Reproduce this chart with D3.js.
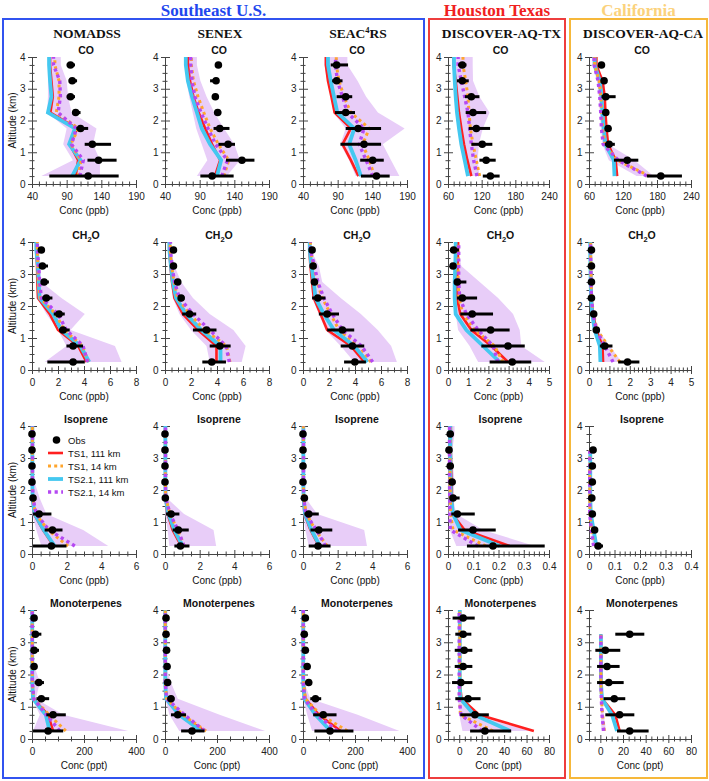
<!DOCTYPE html>
<html>
<head>
<meta charset="utf-8">
<script src="https://cdn.jsdelivr.net/npm/d3@7"></script>
<style>
  body { margin: 0; background: #fff; }
  svg text { font-family: "Liberation Sans", Arial, sans-serif; fill: #111; }
  .serif { font-family: "Liberation Serif", "Times New Roman", serif !important; font-weight: bold; }
  .axis path, .axis line { stroke: #444; stroke-width: 1; }
  .axis text { font-size: 10px; fill: #222; }
</style>
</head>
<body>
<svg id="chart" width="709" height="781"></svg>
<script>
"use strict";

// ── Data ──────────────────────────────────────────────────────────────────────
// altitude bins (km), bottom to top
const ALT = [0.25, 0.75, 1.25, 1.75, 2.25, 2.75, 3.25, 3.75];

const CAMPAIGNS = ["NOMADSS", "SENEX", "SEAC4RS", "DISCOVER-AQ-TX", "DISCOVER-AQ-CA"];
const SPECIES = ["CO", "CH2O", "Isoprene", "Monoterpenes"];
const UNITS = ["Conc (ppb)", "Conc (ppb)", "Conc (ppb)", "Conc (ppt)"];
const LEGEND = ["Obs", "TS1, 111 km", "TS1, 14 km", "TS2.1, 111 km", "TS2.1, 14 km"];
const Y_TICKS = [0, 1, 2, 3, 4];

// x domains / ticks: [Southeast columns, Texas+California columns]
const X_DOMAIN = [[[40, 190], [60, 240]], [[0, 8], [0, 5]], [[0, 6], [0, 0.4]], [[0, 400], [-10, 80]]];
const X_TICKS = [
  [[40, 90, 140, 190], [60, 120, 180, 240]],
  [[0, 2, 4, 6, 8], [0, 1, 2, 3, 4, 5]],
  [[0, 2, 4, 6], [0, 0.1, 0.2, 0.3, 0.4]],
  [[0, 200, 400], [0, 20, 40, 60, 80]]
];
const X_MINOR = [[10, 10], [0.5, 0.2], [0.5, 0.02], [50, 5]];

// obs = mean, lo/hi = error bar; ts1 = TS1 111 km, ts1h = TS1 14 km,
// ts2 = TS2.1 111 km, ts2h = TS2.1 14 km; bandLo/bandHi = shaded range
const NOM_CO = {
  obs: [121, 136, 127, 110, 103, 95.5, 98, 95.5],
  lo: [65, 120, 116, 104, 98, 90, 93, 90],
  hi: [165, 162, 154, 121, 110, 102, 105, 102],
  ts1: [103, 106.5, 94.5, 105, 66.5, 70, 68, 66],
  ts1h: [106.5, 111, 96, 107, 75, 79, 79, 73],
  ts2: [98, 110, 93.5, 102, 63, 68, 66, 64.6],
  ts2h: [109, 114, 97, 104, 77.6, 81, 80, 71],
  bandLo: [53.5, 99, 85, 90, 62, 63, 63, 63],
  bandHi: [138, 138, 128, 133, 97, 92, 90, 81.5]
};
const SEN_CO = {
  obs: [108, 151, 131, 119, 116, 112.6, 113.6, 117],
  lo: [91, 128, 117, 110, 112, 108, 105, 113],
  hi: [139, 169, 141, 133, 121, 117, 118, 121],
  ts1: [112, 119.5, 108, 98, 88.5, 81, 76, 73],
  ts1h: [125, 132, 117, 105, 96, 87.6, 81, 78],
  ts2: [115, 121, 105, 93, 86, 79, 73, 70],
  ts2h: [122, 130, 113, 102, 92, 83, 79, 77],
  bandLo: [86, 101, 93, 85, 80, 75, 71, 69],
  bandHi: [129, 148, 140, 125, 111, 100, 91, 86]
};
const SEAC_CO = {
  obs: [146, 140.5, 128, 119.6, 101.6, 101.6, 88.5, 88.5],
  lo: [123.5, 122.5, 94, 101.6, 86, 88.5, 82, 80],
  hi: [165, 156.5, 152.6, 152.6, 115, 111, 97, 105],
  ts1: [120, 109, 97, 109, 85.6, 81, 76, 73],
  ts1h: [143, 135.6, 126, 135.6, 109, 99, 92, 88],
  ts2: [123.5, 116, 106.5, 114, 89.5, 84.7, 80, 76],
  ts2h: [140.5, 131, 121, 128, 104, 97, 89.5, 87],
  bandLo: [116, 106.5, 94, 101.6, 84, 80, 75, 71],
  bandHi: [179, 167, 155, 186.6, 148, 131, 118.6, 104]
};
const TX_CO = {
  obs: [135.5, 128, 121, 110.5, 104.6, 101.6, 85.5, 85.5],
  lo: [122, 116, 101.6, 97, 91.5, 90, 76, 78],
  hi: [152, 145, 139, 135, 128, 116, 97, 93],
  ts1: [101.6, 94.5, 88.5, 83.8, 79.6, 76.6, 73.7, 70],
  ts1h: [116.4, 110.5, 104.6, 99.8, 97.4, 95.6, 91.5, 86.7],
  ts2: [95.6, 89.7, 83.8, 79.6, 76, 73.7, 72, 70.7],
  ts2h: [111.7, 105.7, 101.6, 98.6, 95.6, 89.7, 83.8, 78],
  bandLo: [94, 88, 82, 78, 75, 72, 70, 68],
  bandHi: [116, 113, 115, 122, 134, 116, 104.6, 104]
};
const CA_CO = {
  obs: [186.7, 127.5, 95.5, 93.7, 89.6, 89.6, 86.6, 82],
  lo: [162, 104, 88, 91, 87, 82, 84, 80],
  hi: [224, 147, 105.6, 96, 92, 107, 89, 84],
  ts1: [109.7, 107, 93.7, 90.8, 89, 87.8, 83.7, 73],
  ts1h: [167, 110, 88, 84, 82, 81, 78, 70],
  ts2: [105, 103.8, 89, 86, 83.7, 82, 79, 70],
  ts2h: [162, 111.5, 85, 82, 80.7, 79, 76, 69],
  bandLo: [144, 95, 83.7, 81, 79, 77, 74, 66],
  bandHi: [174, 140, 93.7, 91, 90, 89, 88, 72]
};

const NOM_CH2O = {
  obs: [3.16, 3.16, 2.39, 2.08, 1.1, 0.93, 0.8, 0.72],
  lo: [1.18, 2.65, 2.08, 1.67, 0.8, 0.75, 0.6, 0.6],
  hi: [4.06, 3.93, 2.9, 2.52, 1.57, 1.3, 1.23, 0.85],
  ts1: [4.19, 3.55, 2.0, 1.36, 0.46, 0.41, 0.39, 0.33],
  ts1h: [4.32, 3.88, 2.47, 1.83, 0.64, 0.5, 0.45, 0.41],
  ts2: [4.4, 3.73, 2.26, 1.62, 0.59, 0.51, 0.46, 0.33],
  ts2h: [4.27, 3.93, 2.65, 2.0, 0.72, 0.59, 0.51, 0.41],
  bandLo: [0.98, 2.65, 2.0, 1.1, 0.41, 0.35, 0.3, 0.26],
  bandHi: [6.89, 6.38, 2.96, 4.06, 2.26, 0.72, 0.64, 0.54]
};
const SEN_CH2O = {
  obs: [3.6, 4.22, 3.19, 1.89, 1.24, 0.98, 0.65, 0.65],
  lo: [2.87, 3.44, 2.15, 1.32, 1.0, 0.85, 0.6, 0.6],
  hi: [4.69, 5.05, 3.96, 2.4, 1.5, 1.1, 0.7, 0.7],
  ts1: [3.96, 3.96, 2.54, 1.37, 0.73, 0.54, 0.42, 0.34],
  ts1h: [5.0, 4.74, 3.06, 1.89, 0.98, 0.7, 0.5, 0.4],
  ts2: [4.27, 4.27, 2.8, 1.63, 0.85, 0.6, 0.46, 0.34],
  ts2h: [4.95, 4.69, 3.44, 2.15, 1.11, 0.73, 0.54, 0.42],
  bandLo: [3.44, 3.19, 2.0, 1.11, 0.6, 0.45, 0.3, 0.2],
  bandHi: [5.9, 6.2, 5.26, 3.44, 2.15, 1.24, 0.73, 0.46]
};
const SEAC_CH2O = {
  obs: [3.99, 3.8, 3.03, 1.86, 1.14, 0.88, 0.78, 0.70],
  lo: [3.16, 2.9, 1.86, 1.22, 0.7, 0.8, 0.7, 0.65],
  hi: [4.84, 4.71, 3.94, 2.77, 1.73, 0.95, 0.85, 0.75],
  ts1: [4.71, 3.68, 1.86, 1.35, 0.83, 0.7, 0.57, 0.49],
  ts1h: [5.23, 4.32, 2.77, 2.12, 1.48, 1.09, 0.83, 0.57],
  ts2: [4.97, 3.94, 2.38, 1.6, 0.96, 0.83, 0.65, 0.52],
  ts2h: [5.36, 4.5, 3.03, 2.25, 1.6, 1.14, 0.88, 0.57],
  bandLo: [3.94, 2.9, 1.73, 1.22, 0.7, 0.6, 0.5, 0.4],
  bandHi: [7.22, 6.78, 5.75, 4.45, 2.9, 1.48, 1.22, 0.6]
};
const TX_CH2O = {
  obs: [3.18, 2.97, 2.11, 1.2, 0.71, 0.46, 0.25, 0.28],
  lo: [2.06, 1.65, 1.11, 0.61, 0.45, 0.33, 0.2, 0.16],
  hi: [4.12, 3.8, 3.05, 2.23, 1.44, 0.91, 0.3, 0.54],
  ts1: [2.97, 2.15, 1.16, 0.61, 0.45, 0.45, 0.47, 0.5],
  ts1h: [2.72, 2.31, 1.32, 0.74, 0.54, 0.5, 0.5, 0.5],
  ts2: [2.56, 1.73, 0.91, 0.38, 0.33, 0.33, 0.36, 0.38],
  ts2h: [2.47, 2.23, 1.49, 0.91, 0.58, 0.53, 0.53, 0.53],
  bandLo: [1.49, 1.07, 0.5, 0.38, 0.33, 0.33, 0.33, 0.33],
  bandHi: [4.79, 3.63, 3.55, 3.22, 2.48, 1.57, 0.66, 0.5]
};
const CA_CH2O = {
  obs: [1.89, 0.77, 0.36, 0.23, 0.12, 0.12, 0.12, 0.12],
  lo: [1.43, 0.53, 0.3, 0.2, 0.1, 0.1, 0.1, 0.1],
  hi: [2.47, 1.15, 0.42, 0.26, 0.14, 0.14, 0.14, 0.14],
  ts1: [0.69, 0.66, 0.36, 0.2, 0.12, 0.1, 0.09, 0.08],
  ts1h: [1.51, 0.94, 0.4, 0.22, 0.12, 0.1, 0.09, 0.08],
  ts2: [0.56, 0.53, 0.28, 0.16, 0.1, 0.08, 0.07, 0.06],
  ts2h: [1.18, 0.77, 0.36, 0.2, 0.12, 0.1, 0.09, 0.08],
  bandLo: [0.56, 0.5, 0.26, 0.15, 0.08, 0.06, 0.05, 0.05],
  bandHi: [1.6, 1.02, 0.45, 0.26, 0.16, 0.14, 0.12, 0.12]
};

const NOM_ISO = {
  obs: [1.12, 1.18, 0.41, 0.06, 0, 0, 0, 0],
  lo: [0.06, 0.73, 0.06, 0.03, 0, 0, 0, 0],
  hi: [1.99, 1.76, 1.12, 0.1, 0, 0, 0, 0],
  ts1: [1.25, 0.64, 0.12, 0.02, 0.02, 0.02, 0.02, 0.02],
  ts1h: [2.08, 0.93, 0.21, 0.04, 0.02, 0.02, 0.02, 0.02],
  ts2: [1.31, 0.68, 0.15, 0.03, 0.02, 0.02, 0.02, 0.02],
  ts2h: [2.47, 0.98, 0.25, 0.05, 0.03, 0.03, 0.03, 0.03],
  bandLo: [0.54, 0.25, 0.02, 0, 0, 0, 0, 0],
  bandHi: [4.4, 2.95, 0.83, 0.44, 0.15, 0.08, 0.06, 0.06]
};
const SEN_ISO = {
  obs: [0.89, 0.77, 0.35, 0.02, 0, 0, 0, 0],
  lo: [0.54, 0.44, 0.06, 0, 0, 0, 0, 0],
  hi: [1.41, 1.37, 0.83, 0.05, 0, 0, 0, 0],
  ts1: [0.93, 0.44, 0.15, 0.02, 0.02, 0.02, 0.02, 0.02],
  ts1h: [1.12, 0.73, 0.29, 0.04, 0.02, 0.02, 0.02, 0.02],
  ts2: [1.02, 0.54, 0.2, 0.03, 0.02, 0.02, 0.02, 0.02],
  ts2h: [1.1, 0.75, 0.29, 0.04, 0.03, 0.03, 0.03, 0.03],
  bandLo: [0.25, 0.15, 0.02, 0, 0, 0, 0, 0],
  bandHi: [2.95, 2.8, 1.1, 0.1, 0.05, 0.04, 0.04, 0.04]
};
const SEAC_ISO = {
  obs: [0.87, 0.91, 0.33, 0.08, 0, 0, 0, 0],
  lo: [0.33, 0.43, 0.08, 0.05, 0, 0, 0, 0],
  hi: [1.59, 1.69, 0.91, 0.1, 0, 0, 0, 0],
  ts1: [0.91, 0.43, 0.08, 0.02, 0.02, 0.02, 0.02, 0.02],
  ts1h: [1.4, 0.72, 0.19, 0.04, 0.02, 0.02, 0.02, 0.02],
  ts2: [0.97, 0.49, 0.12, 0.03, 0.02, 0.02, 0.02, 0.02],
  ts2h: [1.3, 0.78, 0.16, 0.04, 0.03, 0.03, 0.03, 0.03],
  bandLo: [0.33, 0.14, 0.02, 0, 0, 0, 0, 0],
  bandHi: [3.69, 3.53, 0.82, 0.15, 0.05, 0.04, 0.04, 0.04]
};
const TX_ISO = {
  obs: [0.178, 0.099, 0.037, 0.02, 0.016, 0.009, 0.004, 0.009],
  lo: [0.075, 0.04, 0.013, 0.007, 0.005, 0.006, 0.003, 0.006],
  hi: [0.383, 0.189, 0.106, 0.046, 0.03, 0.012, 0.006, 0.012],
  ts1: [0.244, 0.066, 0.017, 0.016, 0.014, 0.012, 0.011, 0.011],
  ts1h: [0.15, 0.02, 0.01, 0.01, 0.008, 0.008, 0.008, 0.008],
  ts2: [0.205, 0.049, 0.02, 0.012, 0.01, 0.009, 0.009, 0.009],
  ts2h: [0.119, 0.009, 0.007, 0.007, 0.006, 0.006, 0.006, 0.006],
  bandLo: [0.033, 0.007, 0.002, 0.002, 0.002, 0.002, 0.002, 0.002],
  bandHi: [0.343, 0.139, 0.033, 0.02, 0.026, 0.02, 0.017, 0.026]
};
const CA_ISO = {
  obs: [0.036, 0.022, 0.013, 0.011, 0.013, 0.013, 0.016, null],
  lo: [0.022, 0.015, 0.01, 0.009, 0.01, 0.01, 0.013, null],
  hi: [0.055, 0.03, 0.016, 0.013, 0.016, 0.016, 0.019, null],
  ts1: [0.029, 0.018, 0.006, 0.005, 0.005, 0.005, 0.005, null],
  ts1h: [0.02, 0.01, 0.004, 0.003, 0.003, 0.003, 0.003, null],
  ts2: [0.029, 0.018, 0.007, 0.005, 0.005, 0.005, 0.005, null],
  ts2h: [0.018, 0.009, 0.003, 0.003, 0.003, 0.003, 0.003, null],
  bandLo: [0.015, 0.008, 0.002, 0.002, 0.002, 0.002, 0.002, null],
  bandHi: [0.032, 0.02, 0.008, 0.006, 0.006, 0.006, 0.006, null]
};

const NOM_MONO = {
  obs: [62, 81, 36, 26, 8, 8, 13, 8],
  lo: [4, 55, 17, 10, 3, 0, 0, 3],
  hi: [120, 130, 66, 46, 13, 27, 36, 13],
  ts1: [81, 62, 4, 1, 1, 1, 1, 1],
  ts1h: [130, 66, 7, 1, 1, 1, 1, 1],
  ts2: [68, 53, 4, 1, 1, 1, 1, 1],
  ts2h: [107, 55, 7, 1, 1, 1, 1, 1],
  bandLo: [4, 30, 1, 0, 0, 0, 0, 0],
  bandHi: [370, 120, 15, 30, 10, 5, 4, 4]
};
const SEN_MONO = {
  obs: [104, 49, 23, 10, 8, 6, 4, 4],
  lo: [62, 23, 10, 5, 5, 3, 2, 2],
  hi: [152, 81, 36, 15, 10, 9, 6, 6],
  ts1: [152, 55, 4, 1, 1, 1, 1, 1],
  ts1h: [158, 68, 6, 1, 1, 1, 1, 1],
  ts2: [139, 55, 4, 1, 1, 1, 1, 1],
  ts2h: [152, 75, 6, 1, 1, 1, 1, 1],
  bandLo: [55, 17, 1, 0, 0, 0, 0, 0],
  bandHi: [385, 210, 49, 23, 4, 2, 2, 2]
};
const SEAC_MONO = {
  obs: [104, 78, 48, 22, 16, 9, 5, 9],
  lo: [44, 39, 28, 15, 10, 5, 2, 5],
  hi: [194, 129, 70, 30, 22, 13, 8, 13],
  ts1: [145, 61, 9, 2, 1, 1, 1, 1],
  ts1h: [171, 67, 9, 2, 1, 1, 1, 1],
  ts2: [106, 48, 5, 1, 1, 1, 1, 1],
  ts2h: [132, 52, 5, 1, 1, 1, 1, 1],
  bandLo: [35, 16, 1, 0, 0, 0, 0, 0],
  bandHi: [371, 210, 28, 5, 3, 2, 2, 2]
};
const TX_MONO = {
  obs: [22.9, 14, 7.9, 1.5, 3.5, 4.4, 3.5, 3.5],
  lo: [9.7, 0.9, -3.5, -6.4, -4, -4, -3.5, -5.9],
  hi: [46.3, 26.4, 19, 11.7, 11.7, 11.7, 10.8, 13.8],
  ts1: [66.5, 17.6, 2, 0.5, 0.5, 0.5, 0.5, 0.5],
  ts1h: [30, 1, 0.5, 0.5, 0.5, 0.5, 0.5, 0.5],
  ts2: [45.4, 13.2, 1, 0.5, 0.5, 0.5, 0.5, 0.5],
  ts2h: [20.5, 1.5, 0, 0, 0, 0, 0, 0],
  bandLo: [2.9, 0, -1, -1, -1, -1, -1, -1],
  bandHi: [63, 13, 2, 1, 1, 1, 1, 1]
};
const CA_MONO = {
  obs: [25.9, 17, 12.3, 7.4, 5.9, 4.4, 25.9, null],
  lo: [14.7, 4.4, 2.9, -2.9, -2.9, -4.4, 13.2, null],
  hi: [42.6, 30, 22, 20.6, 17, 17.6, 38.8, null],
  ts1: [17, 13.2, 1.5, 0.5, 0.5, 0.5, 0.5, null],
  ts1h: [3.5, 2, 1, 0.5, 0.5, 0.5, 0.5, null],
  ts2: [14.7, 10.3, 1.5, 0.5, 0.5, 0.5, 0.5, null],
  ts2h: [2.9, 1.5, 0.9, 0.5, 0.5, 0.5, 0.5, null],
  bandLo: [1, 0.5, 0, 0, 0, 0, 0, null],
  bandHi: [5, 3, 1.5, 1, 1, 1, 1, null]
};

const GRID = [
  [NOM_CO, SEN_CO, SEAC_CO, TX_CO, CA_CO],
  [NOM_CH2O, SEN_CH2O, SEAC_CH2O, TX_CH2O, CA_CH2O],
  [NOM_ISO, SEN_ISO, SEAC_ISO, TX_ISO, CA_ISO],
  [NOM_MONO, SEN_MONO, SEAC_MONO, TX_MONO, CA_MONO]
];

// ── Layout / style ────────────────────────────────────────────────────────────
const colX = [32, 165, 303, 448, 589];
const colW = [104, 104, 104, 101, 102];
const rowTop = [57, 242, 426, 610];
const rowBot = [184, 370, 554, 739];

const SERIES = [
  { key: "ts1", color: "#ff1f1f", width: 2.6, dash: null },
  { key: "ts2", color: "#44c8f0", width: 3.8, dash: null },
  { key: "ts1h", color: "#ffa52c", width: 3.0, dash: "3,3.2" },
  { key: "ts2h", color: "#b548f2", width: 3.4, dash: "3.2,3.4" }
];
const SHADE = "#e8cdf8";

const svg = d3.select("#chart");

// ── Region boxes ──────────────────────────────────────────────────────────────
const regions = [
  { name: "Southeast U.S.", x0: 3, x1: 424, stroke: "#3153f0", text: "#2146ee" },
  { name: "Houston Texas", x0: 429, x1: 565, stroke: "#ee3d3d", text: "#f0201e" },
  { name: "California", x0: 570, x1: 707, stroke: "#f6b83a", text: "#fbd27c" }
];
regions.forEach(r => {
  svg.append("rect")
    .attr("x", r.x0).attr("y", 19)
    .attr("width", r.x1 - r.x0).attr("height", 759)
    .attr("fill", "none").attr("stroke", r.stroke).attr("stroke-width", 2);
  svg.append("text").attr("class", "serif")
    .attr("x", (r.x0 + r.x1) / 2).attr("y", 15.5)
    .attr("text-anchor", "middle")
    .attr("font-size", 17)
    .style("fill", r.text)
    .text(r.name);
});

// ── Campaign titles ───────────────────────────────────────────────────────────
CAMPAIGNS.forEach((name, c) => {
  const t = svg.append("text").attr("class", "serif")
    .attr("x", colX[c] + colW[c] / 2 + 3).attr("y", 38)
    .attr("text-anchor", "middle").attr("font-size", 13.5);
  if (name === "SEAC4RS") {
    t.append("tspan").text("SEAC");
    t.append("tspan").attr("font-size", 8.5).attr("dy", -5).text("4");
    t.append("tspan").attr("dy", 5).text("RS");
  } else {
    t.text(name);
  }
});

// ── Panels ────────────────────────────────────────────────────────────────────
function range(a, b, step) {
  const out = [];
  const n = Math.round((b - a) / step);
  for (let i = 0; i <= n; i++) out.push(+(a + i * step).toFixed(6));
  return out;
}

function seriesPts(arr) {
  const pts = ALT.map((a, i) => ({ a, v: arr[i] })).filter(p => p.v != null);
  if (arr[ALT.length - 1] != null) pts.push({ a: 4, v: arr[ALT.length - 1] });
  return pts;
}

function drawPanel(d, r, c) {
  const grp = c < 3 ? 0 : 1;
  const dom = X_DOMAIN[r][grp];
  const x = d3.scaleLinear().domain(dom).range([colX[c], colX[c] + colW[c]]);
  const y = d3.scaleLinear().domain([0, 4]).range([rowBot[r], rowTop[r]]);
  const g = svg.append("g");

  // species title
  const title = g.append("text")
    .attr("x", colX[c] + colW[c] / 2 + 2)
    .attr("y", rowTop[r] - 3.5)
    .attr("text-anchor", "middle")
    .attr("font-size", 10.5).attr("font-weight", "bold");
  if (SPECIES[r] === "CH2O") {
    title.append("tspan").text("CH");
    title.append("tspan").attr("font-size", 7.5).attr("dy", 3).text("2");
    title.append("tspan").attr("dy", -3).text("O");
  } else {
    title.text(SPECIES[r]);
  }

  // x axis (major + minor ticks crossing the line)
  const xa = g.append("g").attr("class", "axis")
    .attr("transform", `translate(0,${rowBot[r]})`)
    .call(d3.axisBottom(x).tickValues(X_TICKS[r][grp]).tickSize(4).tickSizeOuter(0).tickPadding(4.5)
      .tickFormat(d3.format("~g")));
  xa.selectAll(".tick line").attr("y1", -4);
  const minorX = range(dom[0], dom[1], X_MINOR[r][grp]).filter(v => !X_TICKS[r][grp].includes(v));
  const xm = g.append("g").attr("class", "axis")
    .attr("transform", `translate(0,${rowBot[r]})`)
    .call(d3.axisBottom(x).tickValues(minorX).tickSize(2.5).tickFormat(""));
  xm.select(".domain").remove();
  xm.selectAll(".tick line").attr("y1", -2.5);

  // y axis
  const ya = g.append("g").attr("class", "axis")
    .attr("transform", `translate(${colX[c]},0)`)
    .call(d3.axisLeft(y).tickValues(Y_TICKS).tickSize(4).tickSizeOuter(0).tickPadding(2.5)
      .tickFormat(d3.format("d")));
  ya.selectAll(".tick line").attr("x1", 5);
  ya.selectAll(".tick text").attr("font-size", 11);
  const ym = g.append("g").attr("class", "axis")
    .attr("transform", `translate(${colX[c]},0)`)
    .call(d3.axisLeft(y).tickValues(range(0, 4, 0.25).filter(v => v % 1 !== 0)).tickSize(2.5).tickFormat(""));
  ym.select(".domain").remove();
  ym.selectAll(".tick line").attr("x1", 2.5);

  // axis labels
  g.append("text")
    .attr("x", colX[c] + colW[c] / 2).attr("y", rowBot[r] + 29.5)
    .attr("text-anchor", "middle").attr("font-size", 10)
    .text(UNITS[r]);
  if (c === 0) {
    g.append("text")
      .attr("transform", `translate(16,${(rowTop[r] + rowBot[r]) / 2}) rotate(-90)`)
      .attr("text-anchor", "middle").attr("font-size", 10)
      .text("Altitude (km)");
  }

  // shaded model range
  const band = ALT.map((a, i) => ({ a, lo: d.bandLo[i], hi: d.bandHi[i] })).filter(p => p.lo != null);
  if (d.bandLo[ALT.length - 1] != null) band.push({ a: 4, lo: d.bandLo[ALT.length - 1], hi: d.bandHi[ALT.length - 1] });
  g.append("path")
    .attr("d", d3.area().y(p => y(p.a)).x0(p => x(p.lo)).x1(p => x(p.hi))(band))
    .attr("fill", SHADE);

  // model lines
  const line = d3.line().x(p => x(p.v)).y(p => y(p.a));
  SERIES.forEach(s => {
    g.append("path")
      .attr("d", line(seriesPts(d[s.key])))
      .attr("fill", "none")
      .attr("stroke", s.color)
      .attr("stroke-width", s.width)
      .attr("stroke-dasharray", s.dash);
  });

  // observations
  const obs = ALT.map((a, i) => ({ a, v: d.obs[i], lo: d.lo[i], hi: d.hi[i] })).filter(p => p.v != null);
  g.selectAll(".err").data(obs).enter().append("line")
    .attr("x1", p => x(p.lo)).attr("x2", p => x(p.hi))
    .attr("y1", p => y(p.a)).attr("y2", p => y(p.a))
    .attr("stroke", "#000").attr("stroke-width", 3);
  g.selectAll(".dot").data(obs).enter().append("circle")
    .attr("cx", p => x(p.v)).attr("cy", p => y(p.a))
    .attr("r", 3.8).attr("fill", "#000");
}

GRID.forEach((row, r) => row.forEach((d, c) => drawPanel(d, r, c)));

// ── Legend (NOMADSS isoprene panel) ───────────────────────────────────────────
const leg = svg.append("g").attr("transform", "translate(48,440)");
LEGEND.forEach((label, i) => {
  const yy = i * 13;
  if (i === 0) {
    leg.append("circle").attr("cx", 8.5).attr("cy", yy).attr("r", 3.8).attr("fill", "#000");
  } else {
    const s = SERIES[[0, 2, 1, 3][i - 1]];
    leg.append("line")
      .attr("x1", 0).attr("x2", 15).attr("y1", yy).attr("y2", yy)
      .attr("stroke", s.color).attr("stroke-width", s.width)
      .attr("stroke-dasharray", s.dash);
  }
  leg.append("text").attr("x", 20).attr("y", yy + 3.5)
    .attr("font-size", 9.5).text(label);
});
</script>
</body>
</html>
